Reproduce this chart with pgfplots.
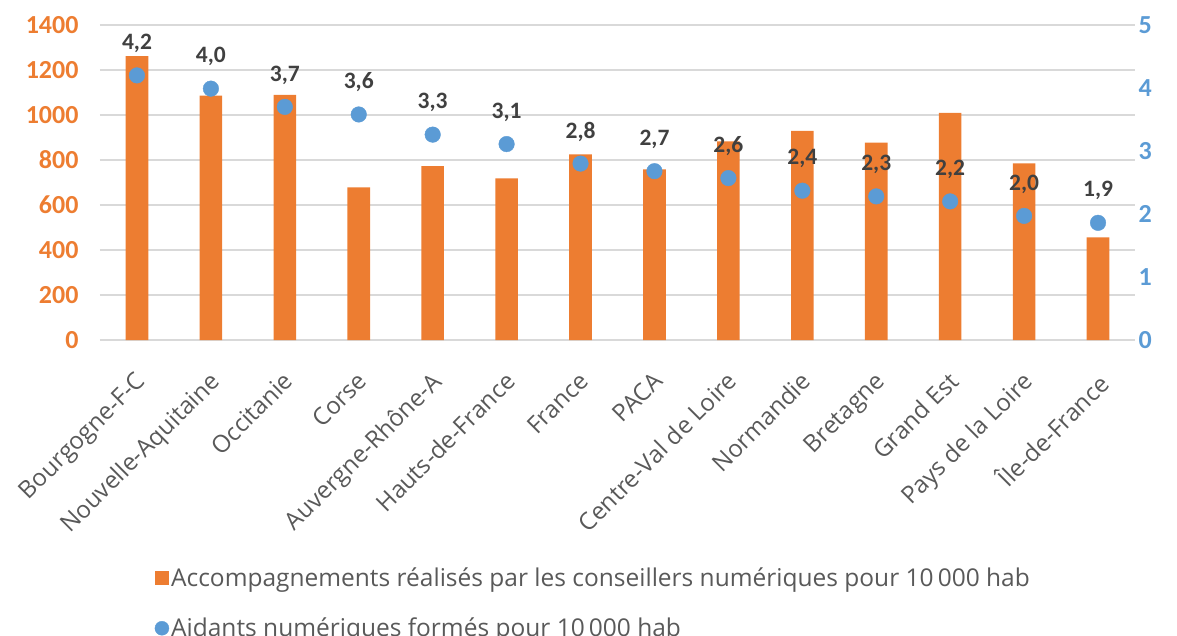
\documentclass[border=0pt]{standalone}
\usepackage{pgfplots}
\pgfplotsset{compat=1.18}
\usepackage{fontspec}
\setmainfont{Open Sans}
\newfontfamily\carlito{Carlito}
\definecolor{orangeA}{HTML}{ED7D31}
\definecolor{blueA}{HTML}{5B9BD5}
\definecolor{labgray}{HTML}{404040}
\definecolor{txtgray}{HTML}{595959}
\definecolor{gridgray}{HTML}{D9D9D9}
\begin{document}
\begin{tikzpicture}
\useasboundingbox (-100pt,-296pt) rectangle (1077pt,340pt);
\begin{axis}[
  at={(0pt,0pt)}, anchor=south west,
  scale only axis, width=1035pt, height=315pt,
  xmin=-0.5, xmax=13.5, ymin=0, ymax=1400,
  ytick={0,200,...,1400},
  xtick={0,...,13},
  /pgf/number format/assume math mode=true,
  /pgf/number format/1000 sep={},
  xticklabels={Bourgogne-F-C,Nouvelle-Aquitaine,Occitanie,Corse,Auvergne-Rhône-A,Hauts-de-France,France,PACA,Centre-Val de Loire,Normandie,Bretagne,Grand Est,Pays de la Loire,Île-de-France},
  axis line style={draw=none},
  major tick length=0pt,
  ymajorgrids, grid style={gridgray, line width=1.5pt},
  yticklabel style={font=\carlito\bfseries\fontsize{26}{26}\selectfont, text=orangeA, xshift=-18pt},
  xticklabel style={font=\fontsize{24}{24}\selectfont, text=txtgray, rotate=45, anchor=north east, yshift=-16pt, xshift=-20pt},
]
\addplot[ybar, bar width=22.6pt, fill=orangeA, draw=none] coordinates {
(0,1262) (1,1086) (2,1089) (3,678) (4,773) (5,718) (6,825) (7,758) (8,883) (9,929) (10,877) (11,1009) (12,785) (13,456)};
\end{axis}
\begin{axis}[
  at={(0pt,0pt)}, anchor=south west,
  scale only axis, width=1035pt, height=315pt,
  xmin=-0.5, xmax=13.5, ymin=0, ymax=5,
  axis y line*=right, axis x line=none,
  ytick={0,...,5},
  /pgf/number format/assume math mode=true,
  axis line style={draw=none},
  major tick length=0pt,
  yticklabel style={font=\carlito\bfseries\fontsize{26}{26}\selectfont, text=blueA, xshift=0pt},
  legend style={draw=none, fill=none, at={(rel axis cs:0.0498,-0.71)}, anchor=north west,
    font=\fontsize{24.5}{24.5}\selectfont, text=txtgray, row sep=26pt},
  legend cell align=left,
  clip=false,
]
\addlegendimage{legend image code/.code={\fill[orangeA] (-5pt,-6.5pt) rectangle (8pt,6.5pt);}}
\addlegendentry{Accompagnements réalisés par les conseillers numériques pour 10\,000 hab}
\addplot[only marks, mark=*, mark size=7.8pt, color=blueA,
  legend image code/.code={\fill[blueA] (1.5pt,0pt) circle (7pt);},
  nodes near coords={\pgfmathprintnumber[fixed,fixed zerofill,precision=1,use comma,assume math mode=true]{\pgfplotspointmeta}},
  every node near coord/.append style={font=\carlito\bfseries\fontsize{23.5}{23.5}\selectfont, text=labgray, anchor=center, yshift=32pt}]
coordinates {
(0,4.2) (1,3.99) (2,3.70) (3,3.58) (4,3.26) (5,3.11) (6,2.80) (7,2.68) (8,2.57) (9,2.37) (10,2.28) (11,2.20) (12,1.97) (13,1.86)};
\addlegendentry{Aidants numériques formés pour 10\,000 hab}
\end{axis}
\end{tikzpicture}
\end{document}
